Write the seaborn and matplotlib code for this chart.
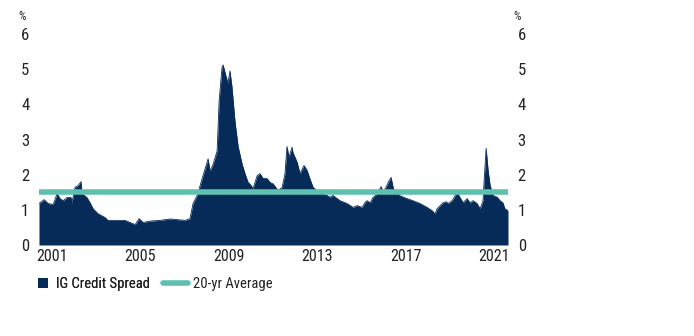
import matplotlib
matplotlib.use("Agg")
import matplotlib.pyplot as plt
from matplotlib.patches import Patch
from matplotlib.lines import Line2D
import pandas as pd
import seaborn as sns

# IG credit spread (%), sampled as decimal years
years = [2000.41, 2000.64, 2000.82, 2001.05, 2001.23, 2001.36, 2001.50, 2001.68, 2001.86, 2001.90,
         2002.04, 2002.18, 2002.31, 2002.36, 2002.58, 2002.72, 2002.86, 2003.08, 2003.40, 2003.53,
         2003.99, 2004.30, 2004.76, 2004.94, 2005.12, 2005.43, 2005.89, 2006.34, 2007.02, 2007.24,
         2007.38, 2007.56, 2007.70, 2007.83, 2008.06, 2008.15, 2008.29, 2008.47, 2008.56, 2008.69,
         2008.74, 2008.87, 2008.96, 2009.05, 2009.14, 2009.28, 2009.42, 2009.60, 2009.73, 2009.87,
         2010.00, 2010.09, 2010.28, 2010.41, 2010.55, 2010.73, 2010.86, 2011.00, 2011.23, 2011.41,
         2011.54, 2011.63, 2011.72, 2011.86, 2011.90, 2012.09, 2012.22, 2012.40, 2012.54, 2012.67,
         2012.81, 2013.04, 2013.44, 2013.58, 2013.71, 2014.03, 2014.35, 2014.62, 2014.80, 2015.03,
         2015.16, 2015.25, 2015.39, 2015.52, 2015.71, 2015.89, 2015.98, 2016.11, 2016.25, 2016.34,
         2016.43, 2016.52, 2016.75, 2017.06, 2017.33, 2017.65, 2017.97, 2018.19, 2018.33, 2018.42,
         2018.56, 2018.69, 2018.83, 2018.92, 2019.10, 2019.19, 2019.33, 2019.46, 2019.60, 2019.78,
         2019.91, 2020.05, 2020.23, 2020.37, 2020.50, 2020.55, 2020.64, 2020.73, 2020.82, 2020.95,
         2021.14, 2021.27, 2021.40, 2021.49, 2021.63]
spread = [1.18, 1.29, 1.18, 1.15, 1.46, 1.32, 1.26, 1.35, 1.35, 1.20,
          1.64, 1.69, 1.80, 1.46, 1.35, 1.20, 1.03, 0.89, 0.78, 0.70,
          0.70, 0.70, 0.58, 0.75, 0.64, 0.68, 0.70, 0.74, 0.70, 0.75,
          1.18, 1.40, 1.69, 1.97, 2.45, 2.10, 2.30, 2.68, 4.10, 5.05,
          5.12, 4.80, 4.60, 4.95, 4.50, 3.50, 2.80, 2.30, 2.03, 1.78,
          1.70, 1.60, 1.97, 2.03, 1.89, 1.89, 1.78, 1.74, 1.55, 1.64,
          2.03, 2.80, 2.50, 2.78, 2.63, 2.35, 2.03, 2.26, 2.12, 1.88,
          1.64, 1.52, 1.41, 1.36, 1.41, 1.26, 1.18, 1.07, 1.12, 1.07,
          1.21, 1.26, 1.20, 1.35, 1.46, 1.66, 1.50, 1.64, 1.83, 1.92,
          1.64, 1.50, 1.40, 1.32, 1.26, 1.18, 1.07, 0.98, 0.89, 1.03,
          1.12, 1.20, 1.23, 1.18, 1.26, 1.35, 1.50, 1.35, 1.20, 1.32,
          1.20, 1.26, 1.18, 1.03, 1.26, 1.83, 2.75, 2.12, 1.70, 1.41,
          1.36, 1.26, 1.20, 1.03, 0.98]
avg_20yr = 1.51

year_ticks = [2001, 2005, 2009, 2013, 2017, 2021]
y_ticks = [0, 1, 2, 3, 4, 5, 6]

navy = "#062B59"
teal = "#5EC0AF"
text_col = "#222222"

sns.set_theme(style="white")
plt.rcParams["font.family"] = ["Roboto Condensed", "Archivo Narrow", "Liberation Sans"]

df = pd.DataFrame({"year": years, "spread": spread})
avg_df = pd.DataFrame({"year": [years[0], years[-1]], "avg": [avg_20yr, avg_20yr]})

fig = plt.figure(figsize=(6.94, 3.36), dpi=100)
ax = fig.add_axes([39 / 694, 91 / 336, 469 / 694, 211 / 336])

# filled area under the spread, with a thin outline drawn by seaborn
ax.fill_between(df["year"], 0, df["spread"], color=navy, linewidth=0, zorder=2)
sns.lineplot(data=df, x="year", y="spread", ax=ax, color=navy, linewidth=0.6, zorder=2)
sns.lineplot(data=avg_df, x="year", y="avg", ax=ax, color=teal, linewidth=4, zorder=3)

ax.set_xlim(years[0], years[-1])
ax.set_ylim(0, 6)
ax.set_xlabel("")
ax.set_ylabel("")
ax.set_xticks(year_ticks)
ax.set_xticklabels([str(y) for y in year_ticks], fontsize=11.5, color=text_col)
ax.set_yticks(y_ticks)
ax.set_yticklabels([str(v) for v in y_ticks], fontsize=12, color=text_col)
ax.tick_params(axis="x", length=0, pad=3)
ax.tick_params(axis="y", length=0, pad=7, labelleft=True, labelright=True)
for s in ax.spines.values():
    s.set_visible(False)
ax.grid(False)

fig.text(18 / 694, 1 - 16 / 336, "%", fontsize=8.5, color=text_col, va="center", ha="left")
fig.text(513 / 694, 1 - 16 / 336, "%", fontsize=8.5, color=text_col, va="center", ha="left")

leg1 = fig.legend(handles=[Patch(facecolor=navy, edgecolor="none", label="IG Credit Spread")],
                  loc="center left", bbox_to_anchor=(38 / 694, 52 / 336), frameon=False,
                  fontsize=10.5, handlelength=0.7, handleheight=0.7, handletextpad=0.55,
                  borderpad=0, borderaxespad=0, labelcolor=text_col)
leg2 = fig.legend(handles=[Line2D([0], [0], color=teal, linewidth=4, label="20-yr Average")],
                  loc="center left", bbox_to_anchor=(163 / 694, 52 / 336), frameon=False,
                  fontsize=10.5, handlelength=1.7, handletextpad=0.35,
                  borderpad=0, borderaxespad=0, labelcolor=text_col)
fig.add_artist(leg1)

fig.savefig("out.png", dpi=100)
